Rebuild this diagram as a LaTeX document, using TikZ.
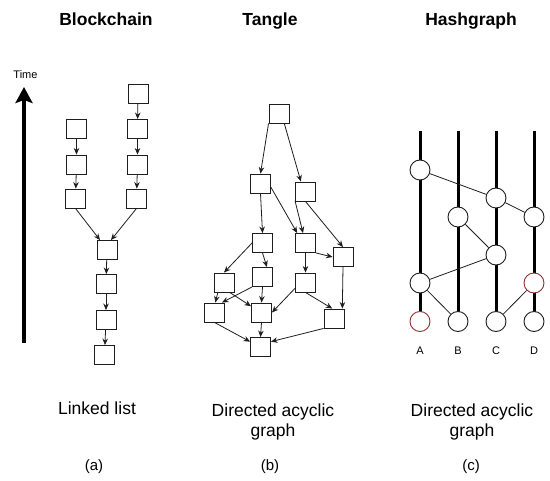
\documentclass[tikz,border=0pt]{standalone}
\usepackage{fontspec}
\setmainfont{Liberation Sans}
\usetikzlibrary{arrows.meta}
\definecolor{hgred}{RGB}{140,50,50}
\definecolor{edge}{RGB}{30,30,30}
\begin{document}
\begin{tikzpicture}[x=1pt,y=-1pt,
  blk/.style={draw=edge, line width=0.9pt, minimum width=20pt, minimum height=19pt, inner sep=0pt, fill=white},
  arr/.style={draw=edge, line width=0.8pt, -{Stealth[length=6.5pt,width=5.5pt]}},
  ev/.style={circle, draw=edge, line width=0.9pt, minimum size=20pt, inner sep=0pt, fill=white},
  evr/.style={ev, draw=hgred},
  hl/.style={draw=edge, line width=0.8pt},
  mem/.style={line width=3pt, draw=black},
  ttl/.style={anchor=base, font=\fontsize{17.5}{21}\selectfont\bfseries},
  captxt/.style={anchor=base, align=center, font=\fontsize{17.5}{20.5}\selectfont},
  subtxt/.style={anchor=base, font=\fontsize{15}{18}\selectfont},
  lbl/.style={anchor=base, font=\fontsize{11}{13}\selectfont}
]
\useasboundingbox (0,0) rectangle (550,481);

% titles and captions
\node[ttl] (t1) at (106,26) {Blockchain};
\node[ttl] (t2) at (270,26) {Tangle};
\node[ttl] (t3) at (471,26) {Hashgraph};
\node[captxt] (c1) at (97,415) {Linked list};
\node[captxt, anchor=north] (c2) at (273,400) {Directed acyclic\\graph};
\node[captxt, anchor=north] (c3) at (472,400) {Directed acyclic\\graph};
\node[subtxt] (s1) at (94,471) {(a)};
\node[subtxt] (s2) at (270,471) {(b)};
\node[subtxt] (s3) at (471,471) {(c)};

% time arrow
\node[lbl] (time) at (25.5,79) {Time};
\coordinate (tb) at (24,343);
\coordinate (tt) at (24,87);
\draw[line width=4pt, -{Stealth[length=16pt,width=17pt,inset=3pt]}] (tb) -- (tt);

% blockchain
\node[blk] (B1) at (76.5,129) {};
\node[blk] (B2) at (76.5,164.5) {};
\node[blk] (B3) at (75.5,198.5) {};
\node[blk] (R0) at (138,94) {};
\node[blk] (R1) at (137.5,129) {};
\node[blk] (R2) at (137.5,164.5) {};
\node[blk] (R3) at (136.5,198.5) {};
\node[blk] (M1) at (107,250) {};
\node[blk] (M2) at (106,284) {};
\node[blk] (M3) at (106,320) {};
\node[blk] (M4) at (104.5,355) {};
\draw[arr] (B1) -- (B2);
\draw[arr] (B2) -- (B3);
\draw[arr] (R0) -- (R1);
\draw[arr] (R1) -- (R2);
\draw[arr] (R2) -- (R3);
\draw[arr] (B3.south) -- ([xshift=-7pt]M1.north);
\draw[arr] (R3.south) -- ([xshift=4pt]M1.north);
\draw[arr] (M1) -- (M2);
\draw[arr] (M2) -- (M3);
\draw[arr] (M3) -- (M4);

% tangle
\node[blk] (T1) at (279,113.5) {};
\node[blk] (T2) at (260.5,183.5) {};
\node[blk] (T3) at (305.5,191.5) {};
\node[blk] (T4) at (262.5,243) {};
\node[blk] (T5) at (305.5,243) {};
\node[blk] (T6) at (343,257) {};
\node[blk] (T7) at (224,282.5) {};
\node[blk] (T8) at (262.5,277) {};
\node[blk] (T9) at (305.5,282.5) {};
\node[blk] (T10) at (214.5,312.5) {};
\node[blk] (T11) at (261.5,312.5) {};
\node[blk] (T12) at (334,318.5) {};
\node[blk] (T13) at (260.5,347) {};
\draw[arr] (T1.south west) -- (T2.north);
\draw[arr] (T1.298) -- (T3.115);
\draw[arr] (T2.south) -- (T4.north);
\draw[arr] (T2.340) -- (T5.130);
\draw[arr] (T3.222) -- (T5.104);
\draw[arr] (T3.south) -- (T6.north);
\draw[arr] (T4.west) -- (T7.north);
\draw[arr] (T4.south) -- (T8.66);
\draw[arr] (T5.south east) -- (T6.west);
\draw[arr] (T5.south) -- (T9.north);
\draw[arr] (T6.south) -- (T12.50);
\draw[arr] (T7.238) -- (T10.85);
\draw[arr] (T7.300) -- (T11.149);
\draw[arr] (T8.south west) -- (T10.53);
\draw[arr] (T8.south) -- (T11.north);
\draw[arr] (T9.209) -- (T11.east);
\draw[arr] (T9.south) -- (T12.100);
\draw[arr] (T10.south) -- (T13.153);
\draw[arr] (T11.south) -- (T13.north);
\draw[arr] (T12.south west) -- (T13.27);

% hashgraph
\coordinate (Atop) at (420,131);
\coordinate (Btop) at (458,131);
\coordinate (Ctop) at (496,131);
\coordinate (Dtop) at (534,131);
\coordinate (Abot) at (420,321.5);
\coordinate (Bbot) at (458,321.5);
\coordinate (Cbot) at (496,321.5);
\coordinate (Dbot) at (534,321.5);
\draw[mem] (Atop) -- (Abot);
\draw[mem] (Btop) -- (Bbot);
\draw[mem] (Ctop) -- (Cbot);
\draw[mem] (Dtop) -- (Dbot);
\node[ev] (A1) at (420,170) {};
\node[ev] (C1) at (496,198) {};
\node[ev] (B1h) at (458,217) {};
\node[ev] (D1) at (534,217) {};
\node[ev] (C2) at (496,255) {};
\node[ev] (A2) at (420,283) {};
\node[evr] (D2) at (534,283) {};
\node[evr] (A3) at (420,321.5) {};
\node[ev] (B3h) at (458,321.5) {};
\node[ev] (C3) at (496,321.5) {};
\node[ev] (D3) at (534,321.5) {};
\draw[hl] (A1) -- (C1);
\draw[hl] (C1) -- (D1);
\draw[hl] (B1h) -- (C2);
\draw[hl] (C2) -- (A2);
\draw[hl] (A2) -- (B3h);
\draw[hl] (D2) -- (C3);
\node[lbl] (la) at (420,355) {A};
\node[lbl] (lb) at (458,355) {B};
\node[lbl] (lc) at (496,355) {C};
\node[lbl] (ld) at (534,355) {D};
\end{tikzpicture}
\end{document}
